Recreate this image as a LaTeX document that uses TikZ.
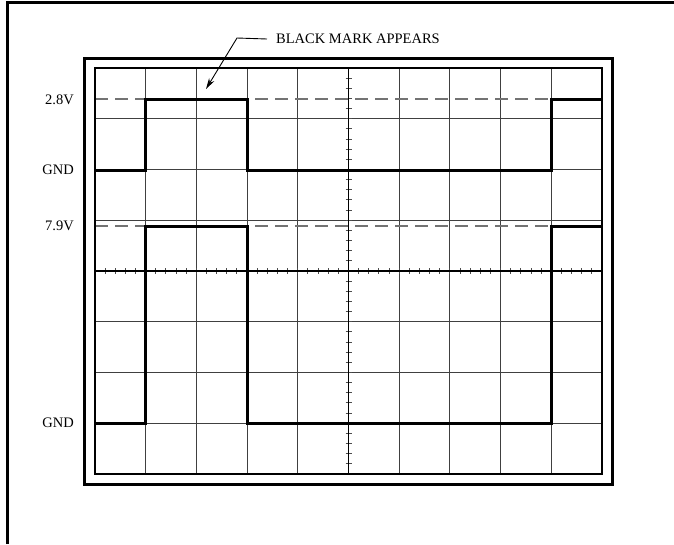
\documentclass[tikz,border=0pt]{standalone}
\usepackage{fontspec}
\setmainfont{Liberation Serif}
\usetikzlibrary{arrows.meta}
\begin{document}
\begin{tikzpicture}[x=1pt,y=-1pt,
  frame/.style={line width=3pt},
  gridline/.style={line width=1pt, black!75},
  gridborder/.style={line width=2.2pt},
  trace/.style={line width=3pt, line join=miter},
  reflevel/.style={line width=1.4pt, black!55, dash pattern=on 13pt off 7pt},
  tickmark/.style={line width=1pt, black!70},
  lbl/.style={font=\fontsize{14.5}{16}\selectfont, inner sep=0pt},
  leader/.style={line width=0.9pt, -{Stealth[length=11pt,width=6pt]}}]
\useasboundingbox (0,0) rectangle (674,544);
\fill[white] (0,0) rectangle (674,544);
% outer frame (left and top)
\draw[frame] (7,544) -- (7,2) -- (674,2);
% screen bezel
\draw[frame] (84,58) rectangle (612,484);
% graticule
\foreach \i in {1,...,9} \draw[gridline] ({95+\i*50.7},68) -- ({95+\i*50.7},474);
\foreach \j in {1,...,7} \draw[gridline] (95,{68+\j*50.75}) -- (602,{68+\j*50.75});
% centre axes ticks
\foreach \k in {1,...,39} \draw[tickmark] (345.5,{68+\k*10.15}) -- (351.5,{68+\k*10.15});
\foreach \k in {1,...,49} \draw[tickmark] ({95+\k*10.14},268) -- ({95+\k*10.14},274);
\draw[line width=1.3pt] (348.5,68) -- (348.5,474);
\draw[line width=1.3pt] (95,271) -- (602,271);
% reference levels
\draw[reflevel] (95,99) -- (602,99);
\draw[reflevel] (95,226) -- (602,226);
\draw[gridborder] (95,68) rectangle (602,474);
% traces
\draw[trace] (95,170) -- (145.7,170) -- (145.7,99) -- (247.1,99) -- (247.1,170) -- (551.3,170) -- (551.3,99) -- (602,99);
\draw[trace] (95,423) -- (145.7,423) -- (145.7,226) -- (247.1,226) -- (247.1,423) -- (551.3,423) -- (551.3,226) -- (602,226);
% labels
\node[lbl, anchor=east] (l28) at (74,100) {2.8V};
\node[lbl, anchor=east] (lgnd1) at (74,170) {GND};
\node[lbl, anchor=east] (l79) at (74,226) {7.9V};
\node[lbl, anchor=east] (lgnd2) at (74,423) {GND};
% annotation
\node[lbl, anchor=west] (mark) at (276,39) {BLACK MARK APPEARS};
\coordinate (knee) at (237,38);
\coordinate (tip) at (206,89);
\draw[leader] ([xshift=-9pt]mark.west) -- (knee) -- (tip);
\end{tikzpicture}
\end{document}
